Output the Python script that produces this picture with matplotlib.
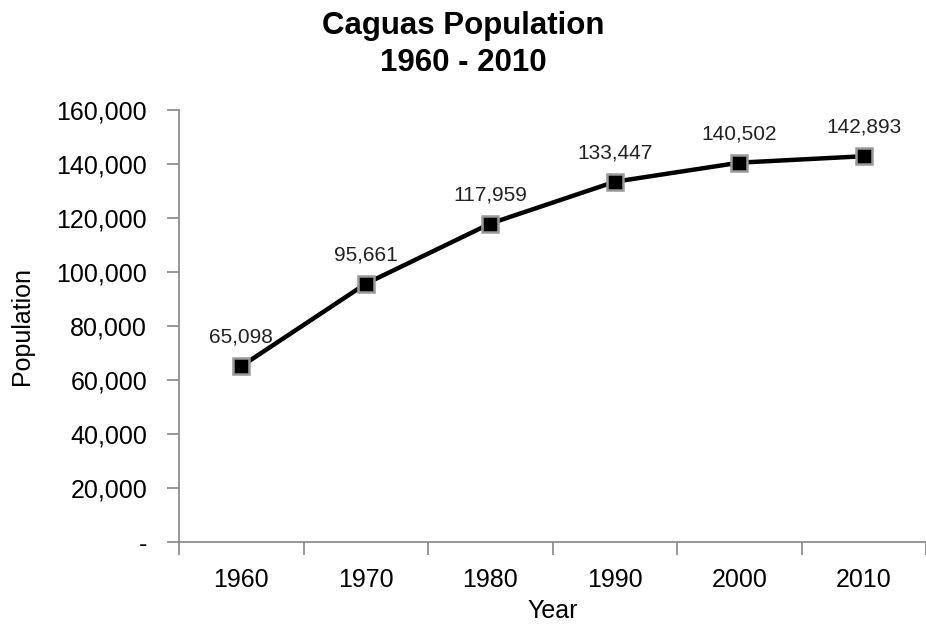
import matplotlib
matplotlib.use("Agg")
import matplotlib.pyplot as plt
from matplotlib.ticker import FuncFormatter, FixedLocator

plt.rcParams["font.family"] = ["Liberation Sans", "DejaVu Sans"]

# Data
years = ["1960", "1970", "1980", "1990", "2000", "2010"]
population = [65098, 95661, 117959, 133447, 140502, 142893]
y_ticks = [0, 20000, 40000, 60000, 80000, 100000, 120000, 140000, 160000]

fig = plt.figure(figsize=(9.26, 6.29), dpi=100)
ax = fig.add_axes([0.1933, 0.1383, 0.807, 0.6868])

x = list(range(len(years)))
ax.plot(x, population, color="black", linewidth=3.2, marker="s", markersize=12,
        markerfacecolor="black", markeredgecolor="#999999", markeredgewidth=1.8,
        solid_capstyle="round", zorder=3)

for xi, val in zip(x, population):
    ax.annotate(f"{val:,}", (xi, val), xytext=(0, 14), textcoords="offset points",
                ha="center", va="bottom", fontsize=15, color="#222222")

ax.set_xlim(-0.5, len(years) - 0.5)
ax.set_ylim(0, 160000)
ax.set_yticks(y_ticks)
ax.yaxis.set_major_formatter(FuncFormatter(lambda v, p: "-" if v == 0 else f"{int(v):,}"))

ax.set_xticks(x)
ax.set_xticklabels(years)
ax.xaxis.set_minor_locator(FixedLocator([i - 0.5 for i in range(len(years) + 1)]))
ax.tick_params(axis="x", which="major", length=0, pad=19, labelsize=18)
ax.tick_params(axis="x", which="minor", length=9, width=1.2, color="#868686")
ax.tick_params(axis="y", length=9, width=1.2, color="#868686", pad=14, labelsize=18)

for side in ["top", "right"]:
    ax.spines[side].set_visible(False)
for side in ["left", "bottom"]:
    ax.spines[side].set_color("#868686")
    ax.spines[side].set_linewidth(1.2)

ax.set_xlabel("Year", fontsize=18, labelpad=5)
ax.set_ylabel("Population", fontsize=18, labelpad=16)

fig.text(0.5, 0.983, "Caguas Population\n1960 - 2010", ha="center", va="top",
         fontsize=22.5, fontweight="bold", linespacing=1.3)

plt.savefig("out.png", dpi=100)
plt.close()
